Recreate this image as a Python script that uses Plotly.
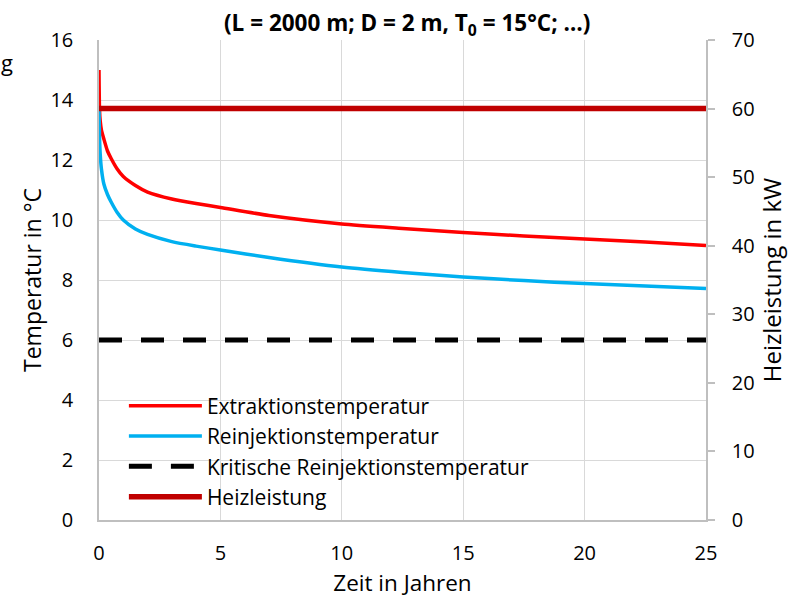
import plotly.graph_objects as go

# Time in years
t_extr = [0, 0.02, 0.05, 0.1, 0.2, 0.35, 0.5, 0.75, 1, 1.5, 2, 3, 4, 5, 7, 10, 12.5, 15, 17.5, 20, 22.5, 25]
extraktion = [15.0, 13.7, 13.3, 13.0, 12.7, 12.3, 12.05, 11.7, 11.45, 11.15, 10.93, 10.7, 10.55, 10.42,
              10.15, 9.87, 9.72, 9.58, 9.47, 9.37, 9.27, 9.15]
t_rein = [0, 0.02, 0.05, 0.1, 0.2, 0.35, 0.5, 0.75, 1, 1.5, 2, 3, 4, 5, 7, 10, 12.5, 15, 17.5, 20, 22.5, 25]
reinjektion = [13.7, 12.8, 12.2, 11.7, 11.2, 10.85, 10.6, 10.25, 10.0, 9.7, 9.52, 9.28, 9.13, 9.0,
               8.75, 8.43, 8.25, 8.1, 7.98, 7.88, 7.8, 7.72]
t_krit = [0, 25]
kritisch = [6, 6]
t_heiz = [0, 25]
heizleistung = [60, 60]

x_ticks = [0, 5, 10, 15, 20, 25]
y_ticks = [0, 2, 4, 6, 8, 10, 12, 14, 16]
y2_ticks = [0, 10, 20, 30, 40, 50, 60, 70]

FONT = "Open Sans"
GRID = "#D9D9D9"
AXIS = "#BFBFBF"
TICK = 20

fig = go.Figure()
fig.add_trace(go.Scatter(x=t_extr, y=extraktion, mode="lines", name="Extraktionstemperatur",
                         line=dict(color="#FF0000", width=3.5, shape="spline", smoothing=0.6)))
fig.add_trace(go.Scatter(x=t_rein, y=reinjektion, mode="lines", name="Reinjektionstemperatur",
                         line=dict(color="#00B0F0", width=3.5, shape="spline", smoothing=0.6)))
fig.add_trace(go.Scatter(x=t_krit, y=kritisch, mode="lines", name="Kritische Reinjektionstemperatur",
                         line=dict(color="#000000", width=5, dash="23px,19px")))
fig.add_trace(go.Scatter(x=t_heiz, y=heizleistung, mode="lines", name="Heizleistung", yaxis="y2",
                         line=dict(color="#C00000", width=5.5)))

fig.update_layout(
    width=798, height=598,
    margin=dict(l=99, r=92, t=40, b=78),
    paper_bgcolor="white", plot_bgcolor="white",
    font=dict(family=FONT, size=TICK, color="#000000"),
    showlegend=True,
    legend=dict(x=0.041, y=0.28, xanchor="left", yanchor="top", bgcolor="rgba(0,0,0,0)",
                font=dict(family=FONT, size=21, color="#000000"), itemwidth=73,
                tracegroupgap=0, traceorder="normal"),
    xaxis=dict(range=[0, 25], tickvals=x_ticks, ticktext=[str(v) for v in x_ticks],
               showgrid=True, gridcolor=GRID, gridwidth=1, zeroline=False,
               showline=True, linecolor=AXIS, linewidth=1.5, ticks="",
               ticklabelstandoff=14, automargin=False,
               tickfont=dict(family=FONT, size=TICK),
               title=dict(text="Zeit in Jahren", font=dict(family=FONT, size=22.5), standoff=10)),
    yaxis=dict(range=[0, 16], tickvals=y_ticks, ticktext=[str(v) for v in y_ticks],
               showgrid=True, gridcolor=GRID, gridwidth=1, zeroline=False,
               showline=True, linecolor=AXIS, linewidth=1.5, ticks="",
               ticklabelstandoff=20, automargin=False,
               tickfont=dict(family=FONT, size=TICK),
               title=dict(text="Temperatur in °C", font=dict(family=FONT, size=23), standoff=2)),
    yaxis2=dict(range=[0, 70], tickvals=y2_ticks, ticktext=[str(v) for v in y2_ticks],
                overlaying="y", side="right", showgrid=False, zeroline=False,
                showline=True, linecolor=AXIS, linewidth=1.5,
                ticks="outside", ticklen=7, tickcolor=AXIS, tickwidth=1.5,
                ticklabelstandoff=13, automargin=False,
                tickfont=dict(family=FONT, size=TICK),
                title=dict(text="Heizleistung in kW", font=dict(family=FONT, size=24), standoff=8)),
)

fig.add_annotation(text="<b>(L = 2000 m; D = 2 m, T<sub>0</sub> = 15°C; …)</b>", xref="paper", yref="paper",
                   x=0.507, y=1.033, xanchor="center", yanchor="middle", showarrow=False,
                   font=dict(family=FONT, size=22.5, color="#000000"))
fig.add_annotation(text="g", xref="paper", yref="paper", x=-0.165, y=0.955,
                   xanchor="left", yanchor="middle", showarrow=False,
                   font=dict(family=FONT, size=22, color="#000000"))

fig.write_html("out.html")
